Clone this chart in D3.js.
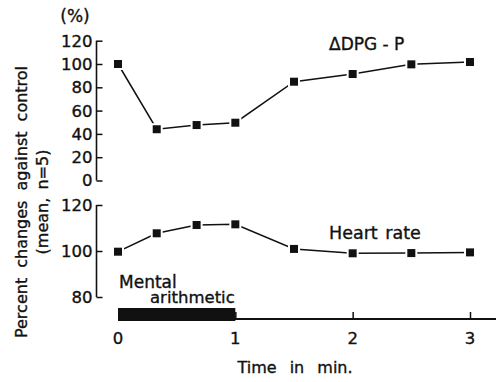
<!DOCTYPE html>
<html>
<head>
<meta charset="utf-8">
<script src="https://cdn.jsdelivr.net/npm/d3@7"></script>
<style>
  html, body { margin: 0; padding: 0; background: #fff; }
  svg text { font-family: "DejaVu Sans", sans-serif; fill: #111; stroke: #111; stroke-width: 0.35px; }
</style>
</head>
<body>
<svg id="chart" width="496" height="382"></svg>
<script>
// Sampling times (min)
const times = [0, 0.33, 0.67, 1, 1.5, 2, 2.5, 3];
// ΔDPG-P, percent of control
const dpgValues = [100, 44, 47.6, 49.6, 84.8, 91.4, 99.7, 101.7];
// Heart rate, percent of control
const hrValues = [99.7, 107.7, 111.3, 111.6, 100.9, 99, 99.1, 99.4];
// Tick labels
const xTicks = [0, 1, 2, 3];
const dpgTicks = [0, 20, 40, 60, 80, 100, 120];
const hrTicks = [80, 100, 120];
// Mental arithmetic period (min)
const taskPeriod = [0, 1];

const svg = d3.select("#chart");
const ink = "#111";

const x = d3.scaleLinear().domain([0, 3]).range([118, 470]);
const yDpg = d3.scaleLinear().domain([0, 120]).range([180.5, 40.7]);
const yHr = d3.scaleLinear().domain([80, 120]).range([297, 205]);
const axisX = 96.5;
const baseY = 319;

// Y axes: ticks point inward (to the right)
function drawYAxis(scale, ticks, y0, y1) {
  const g = svg.append("g").attr("transform", `translate(${axisX},0)`);
  g.call(d3.axisRight(scale).tickValues(ticks).tickSize(6).tickFormat(""));
  g.select(".domain").remove();
  g.selectAll(".tick line").attr("stroke", ink).attr("stroke-width", 1.5);
  g.append("line").attr("x1", 0).attr("x2", 0)
    .attr("y1", scale(y0)).attr("y2", scale(y1))
    .attr("stroke", ink).attr("stroke-width", 1.6);
  ticks.forEach(t => {
    svg.append("text").attr("x", axisX - 4).attr("y", scale(t))
      .attr("dy", "0.36em").attr("text-anchor", "end")
      .style("font-size", "16.5px").text(t);
  });
}
drawYAxis(yDpg, dpgTicks, 0, 120);
drawYAxis(yHr, hrTicks, 80, 120);

svg.append("text").attr("x", 75).attr("y", 22).attr("text-anchor", "middle")
  .style("font-size", "17px").text("(%)");

// X axis along the bottom
const gx = svg.append("g").attr("transform", `translate(0,${baseY})`);
gx.call(d3.axisTop(x).tickValues(xTicks.slice(1)).tickSize(7).tickFormat(""));
gx.select(".domain").remove();
gx.selectAll(".tick line").attr("stroke", ink).attr("stroke-width", 1.5);
gx.append("line").attr("x1", x(0)).attr("x2", 496).attr("y1", 0).attr("y2", 0)
  .attr("stroke", ink).attr("stroke-width", 1.8);
xTicks.forEach(t => {
  svg.append("text").attr("x", x(t)).attr("y", 344)
    .attr("text-anchor", "middle").style("font-size", "16.5px").text(t);
});

// Mental arithmetic bar
svg.append("rect")
  .attr("x", x(taskPeriod[0])).attr("y", 308)
  .attr("width", x(taskPeriod[1]) - x(taskPeriod[0])).attr("height", 13)
  .attr("fill", ink);
svg.append("text").attr("x", 119).attr("y", 288).style("font-size", "17px").text("Mental");
svg.append("text").attr("x", 150).attr("y", 303).style("font-size", "16.5px").text("arithmetic");

// Series
function drawSeries(yScale, values) {
  const pts = times.map((t, i) => [x(t), yScale(values[i])]);
  svg.append("path").attr("d", d3.line()(pts))
    .attr("fill", "none").attr("stroke", ink).attr("stroke-width", 1.5);
  const g = svg.append("g");
  g.selectAll("rect.halo").data(pts).join("rect").attr("class", "halo")
    .attr("x", d => d[0] - 6).attr("y", d => d[1] - 6)
    .attr("width", 12).attr("height", 12).attr("fill", "#fff");
  g.selectAll("rect.mark").data(pts).join("rect").attr("class", "mark")
    .attr("x", d => d[0] - 4).attr("y", d => d[1] - 4)
    .attr("width", 8).attr("height", 8).attr("fill", ink);
}
drawSeries(yDpg, dpgValues);
drawSeries(yHr, hrValues);

svg.append("text").attr("x", 329).attr("y", 50).style("font-size", "17px").text("ΔDPG - P");
svg.append("text").attr("x", 329).attr("y", 239).style("font-size", "17.5px").style("word-spacing", "2px").text("Heart rate");

// Axis titles
svg.append("text").attr("transform", "translate(27,202) rotate(-90)")
  .attr("text-anchor", "middle").style("font-size", "16px").style("word-spacing", "5px")
  .text("Percent changes against control");
svg.append("text").attr("transform", "translate(48,202) rotate(-90)")
  .attr("text-anchor", "middle").style("font-size", "16px").style("word-spacing", "3px")
  .text("(mean, n=5)");
svg.append("text").attr("x", 295).attr("y", 373).attr("text-anchor", "middle")
  .style("font-size", "16px").style("word-spacing", "8px").text("Time in min.");
</script>
</body>
</html>
